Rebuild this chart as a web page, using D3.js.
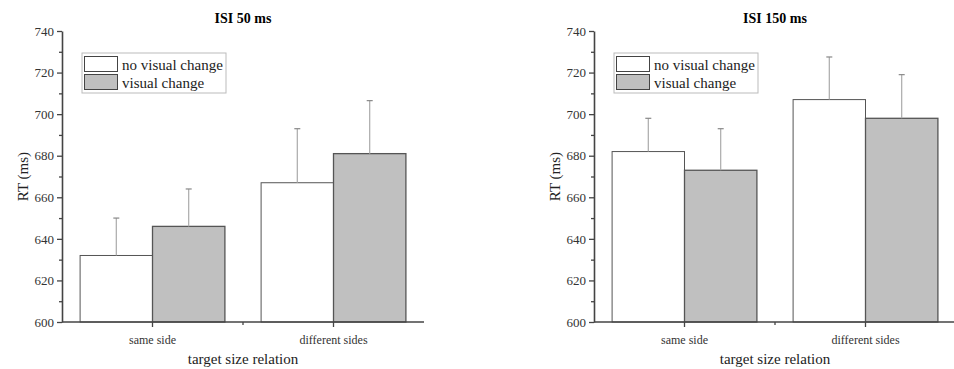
<!DOCTYPE html>
<html>
<head>
<meta charset="utf-8">
<script src="https://cdn.jsdelivr.net/npm/d3@7"></script>
<style>
  body { margin: 0; background: #fff; }
  svg { display: block; font-family: "Liberation Serif", "Times New Roman", serif; }
</style>
</head>
<body>
<div id="chart"></div>
<script>
// data
var categories = ["same side", "different sides"];
var seriesNames = ["no visual change", "visual change"];
var panelTitles = ["ISI 50 ms", "ISI 150 ms"];
var isi50NoChange = [632, 667];
var isi50NoChangeErr = [18, 26];
var isi50Change = [646, 681];
var isi50ChangeErr = [18, 25.5];
var isi150NoChange = [682, 707];
var isi150NoChangeErr = [16, 20.5];
var isi150Change = [673, 698];
var isi150ChangeErr = [20, 21];
var yTicks = [600, 620, 640, 660, 680, 700, 720, 740];

var width = 954, height = 369;
var fills = ["#ffffff", "#c0c0c0"];
var axisColor = "#444";

var svg = d3.select("#chart").append("svg")
  .attr("width", width)
  .attr("height", height);

var y = d3.scaleLinear().domain([600, 740]).range([322, 31]);

function drawPanel(left, title, means, errs) {
  var right = left + 362;
  var g = svg.append("g");

  var x = d3.scaleBand().domain(categories).range([left, right]);
  var barW = x.bandwidth() * 0.4;

  // bars
  categories.forEach(function(c, ci) {
    means.forEach(function(series, si) {
      var bx = x(c) + x.bandwidth() / 2 - barW + si * barW;
      g.append("rect")
        .attr("x", bx)
        .attr("y", y(series[ci]))
        .attr("width", barW)
        .attr("height", y(600) - y(series[ci]))
        .attr("fill", fills[si])
        .attr("stroke", "#555")
        .attr("stroke-width", si == 0 ? 1 : 1.3);
      // upper error bar
      var cx = bx + barW / 2;
      var top = y(series[ci] + errs[si][ci]);
      g.append("line")
        .attr("x1", cx).attr("x2", cx)
        .attr("y1", y(series[ci])).attr("y2", top)
        .attr("stroke", "#aaa").attr("stroke-width", 1.2);
      g.append("line")
        .attr("x1", cx - 3).attr("x2", cx + 3)
        .attr("y1", top).attr("y2", top)
        .attr("stroke", "#888").attr("stroke-width", 1.2);
    });
  });

  // y axis, major + minor ticks
  var yMinor = g.append("g")
    .attr("transform", "translate(" + left + ",0)")
    .call(d3.axisLeft(y).tickValues(d3.range(610, 740, 20)).tickSize(3).tickFormat(""));
  yMinor.select(".domain").remove();
  yMinor.selectAll("line").attr("stroke", axisColor).attr("stroke-width", 1.3);

  var yAxis = g.append("g")
    .attr("transform", "translate(" + left + ",0)")
    .call(d3.axisLeft(y).tickValues(yTicks).tickSize(5).tickPadding(3).tickSizeOuter(0));
  yAxis.select(".domain").attr("stroke", axisColor).attr("stroke-width", 1.6);
  yAxis.selectAll("line").attr("stroke", axisColor).attr("stroke-width", 1.3);
  yAxis.selectAll("text")
    .attr("fill", "#333")
    .style("font-family", "'Liberation Serif', 'Times New Roman', serif")
    .style("font-size", "13px");

  // x axis
  g.append("line")
    .attr("x1", left).attr("x2", right)
    .attr("y1", y(600)).attr("y2", y(600))
    .attr("stroke", axisColor).attr("stroke-width", 1.6);
  var xAxis = g.append("g")
    .attr("transform", "translate(0," + y(600) + ")")
    .call(d3.axisBottom(x).tickSize(5).tickPadding(8).tickSizeOuter(0));
  xAxis.select(".domain").remove();
  xAxis.selectAll("line").attr("stroke", axisColor).attr("stroke-width", 1.3);
  xAxis.selectAll("text")
    .attr("fill", "#333")
    .style("font-family", "'Liberation Serif', 'Times New Roman', serif")
    .style("font-size", "12px");
  g.append("line")
    .attr("x1", left + 181).attr("x2", left + 181)
    .attr("y1", y(600)).attr("y2", y(600) + 3)
    .attr("stroke", axisColor).attr("stroke-width", 1.3);

  // title and axis labels
  g.append("text")
    .attr("x", (left + right) / 2).attr("y", 23)
    .attr("text-anchor", "middle")
    .style("font-size", "14px").style("font-weight", "bold")
    .text(title);
  g.append("text")
    .attr("transform", "translate(" + (left - 34) + "," + y(670) + ") rotate(-90)")
    .attr("text-anchor", "middle")
    .attr("fill", "#222")
    .style("font-size", "15px")
    .text("RT (ms)");
  g.append("text")
    .attr("x", (left + right) / 2).attr("y", 364)
    .attr("text-anchor", "middle")
    .attr("fill", "#222")
    .style("font-size", "15px")
    .text("target size relation");

  // legend
  var lg = g.append("g").attr("transform", "translate(" + (left + 20) + ",53)");
  lg.append("rect")
    .attr("width", 144).attr("height", 40)
    .attr("fill", "#fff").attr("stroke", "#bbb").attr("stroke-width", 1);
  seriesNames.forEach(function(name, i) {
    lg.append("rect")
      .attr("x", 2.5).attr("y", 3.5 + i * 18)
      .attr("width", 33).attr("height", 15)
      .attr("fill", fills[i]).attr("stroke", "#444").attr("stroke-width", 1);
    lg.append("text")
      .attr("x", 40).attr("y", 16.5 + i * 18)
      .attr("fill", "#222")
      .style("font-size", "15px")
      .text(name);
  });
}

drawPanel(62, panelTitles[0], [isi50NoChange, isi50Change], [isi50NoChangeErr, isi50ChangeErr]);
drawPanel(594, panelTitles[1], [isi150NoChange, isi150Change], [isi150NoChangeErr, isi150ChangeErr]);
</script>
</body>
</html>
